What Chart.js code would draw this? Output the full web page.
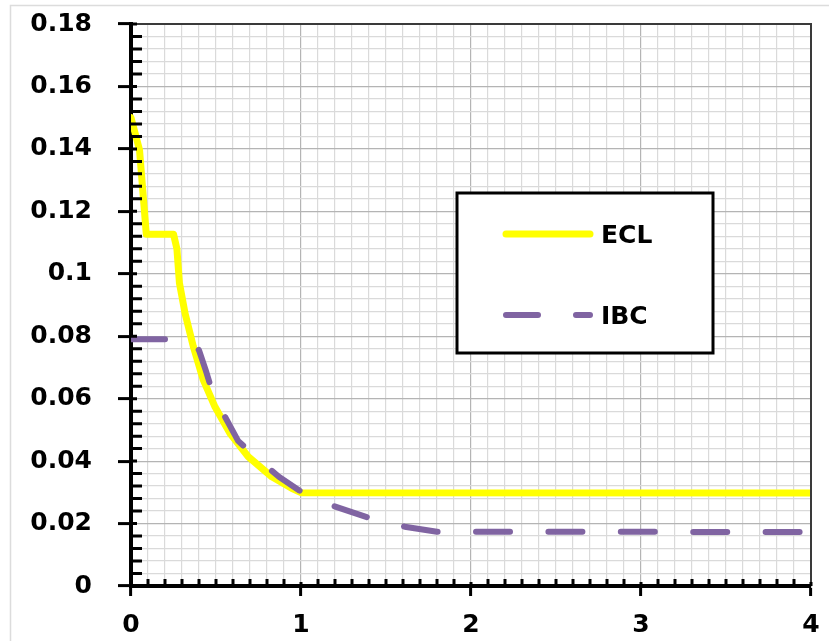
<!doctype html>
<html>

<head>
    <title>ECL vs IBC</title>
    <script src="https://cdn.jsdelivr.net/npm/chart.js"></script>
    <style>
        body { margin: 0; background: #fff; }
    </style>
</head>

<body>
    <canvas id="grafico" width="829" height="642"></canvas>

    <script>
        // tick labels
        const xTicks = [0, 1, 2, 3, 4];
        const yTicks = [0, 0.02, 0.04, 0.06, 0.08, 0.1, 0.12, 0.14, 0.16, 0.18];

        // series names
        const serieNomes = ['ECL', 'IBC'];

        // ECL (yellow, solid)
        const eclX = [0, 0.05, 0.09, 0.25, 0.27, 0.285, 0.318, 0.367, 0.425, 0.494, 0.582, 0.69, 0.828, 0.945, 1.0, 4];
        const eclY = [0.150, 0.1397, 0.1127, 0.1127, 0.108, 0.097, 0.0873, 0.0766, 0.066, 0.0574, 0.0489, 0.0414, 0.035, 0.0313, 0.0299, 0.0298];

        // IBC (purple, dashed)
        const ibcX = [0, 0.3, 0.36, 0.4, 0.44, 0.48, 0.54, 0.63, 0.73, 0.87, 0.99, 1.14, 1.29, 1.44, 1.61, 1.8, 4];
        const ibcY = [0.079, 0.079, 0.0785, 0.0755, 0.069, 0.062, 0.0555, 0.0465, 0.0414, 0.035, 0.0306, 0.0266, 0.0238, 0.0211, 0.019, 0.0174, 0.0173];

        const amarelo = '#FFFF00';
        const roxo = '#8064A2';
        const fonte = 'DejaVu Sans';

        const eh = (v, lista) => lista.some(t => Math.abs(t - v) < 1e-6);

        // minor ticks inside the axes, plot frame, outer frame, legend
        const extras = {
            id: 'extras',
            beforeDraw(chart) {
                const ctx = chart.ctx;
                ctx.save();
                ctx.fillStyle = '#fff';
                ctx.fillRect(0, 0, chart.width, chart.height);
                ctx.strokeStyle = '#dcdcdc';
                ctx.lineWidth = 1.5;
                ctx.beginPath();
                ctx.moveTo(829, 5.5);
                ctx.lineTo(10.5, 5.5);
                ctx.lineTo(10.5, 641);
                ctx.stroke();
                ctx.restore();
            },
            afterDatasetsDraw(chart) {
                const ctx = chart.ctx;
                const a = chart.chartArea;
                const xs = chart.scales.x;
                const ys = chart.scales.y;
                ctx.save();

                // top and right edges
                ctx.strokeStyle = '#3a3a3a';
                ctx.lineWidth = 2;
                ctx.beginPath();
                ctx.moveTo(a.left, a.top);
                ctx.lineTo(a.right, a.top);
                ctx.lineTo(a.right, a.bottom);
                ctx.stroke();

                // inner ticks
                ctx.strokeStyle = '#000';
                ctx.lineWidth = 3;
                ctx.beginPath();
                ys.ticks.forEach(t => {
                    const py = ys.getPixelForValue(t.value);
                    const len = eh(t.value, yTicks) ? 6 : 11;
                    ctx.moveTo(a.left, py);
                    ctx.lineTo(a.left + len, py);
                });
                xs.ticks.forEach(t => {
                    const px = xs.getPixelForValue(t.value);
                    const len = eh(t.value, xTicks) ? 4 : 7;
                    ctx.moveTo(px, a.bottom);
                    ctx.lineTo(px, a.bottom - len);
                });
                ctx.stroke();

                // legend
                const bx = 457, by = 193, bw = 256, bh = 160;
                ctx.fillStyle = '#fff';
                ctx.fillRect(bx, by, bw, bh);
                ctx.strokeStyle = '#000';
                ctx.lineWidth = 3;
                ctx.strokeRect(bx, by, bw, bh);

                ctx.lineCap = 'round';
                ctx.strokeStyle = amarelo;
                ctx.lineWidth = 7;
                ctx.beginPath();
                ctx.moveTo(506, 234);
                ctx.lineTo(590, 234);
                ctx.stroke();

                ctx.strokeStyle = roxo;
                ctx.lineWidth = 6;
                ctx.setLineDash([32, 38]);
                ctx.beginPath();
                ctx.moveTo(506, 315);
                ctx.lineTo(590, 315);
                ctx.stroke();
                ctx.setLineDash([]);

                ctx.fillStyle = '#000';
                ctx.font = 'bold 25px "' + fonte + '"';
                ctx.textAlign = 'left';
                ctx.textBaseline = 'alphabetic';
                ctx.fillText(serieNomes[0], 601, 243);
                ctx.fillText(serieNomes[1], 601, 324);
                ctx.restore();
            }
        };

        const corGrade = (lista) => (c) => {
            if (!c.tick) return '#d9d9d9';
            return eh(c.tick.value, lista) ? '#b4b4b4' : '#dadada';
        };
        const corTick = (lista) => (c) => {
            if (!c.tick) return '#000';
            return eh(c.tick.value, lista) ? '#000' : 'rgba(0,0,0,0)';
        };

        var grafico = new Chart(document.getElementById('grafico').getContext('2d'), {
            type: 'scatter',
            data: {
                datasets: [{
                    label: serieNomes[0],
                    data: eclX.map((x, i) => ({ x: x, y: eclY[i] })),
                    showLine: true,
                    borderColor: amarelo,
                    backgroundColor: amarelo,
                    borderWidth: 7,
                    pointRadius: 0,
                    tension: 0,
                    borderJoinStyle: 'round',
                    borderCapStyle: 'round',
                    order: 1
                }, {
                    label: serieNomes[1],
                    data: ibcX.map((x, i) => ({ x: x, y: ibcY[i] })),
                    showLine: true,
                    borderColor: roxo,
                    backgroundColor: roxo,
                    borderWidth: 6,
                    borderDash: [34, 38.4],
                    borderDashOffset: 0,
                    pointRadius: 0,
                    tension: 0,
                    borderJoinStyle: 'round',
                    borderCapStyle: 'round',
                    order: 0
                }]
            },
            options: {
                responsive: false,
                animation: false,
                devicePixelRatio: 1,
                layout: {
                    padding: { top: 24, right: 18, left: 0, bottom: 0 }
                },
                plugins: {
                    legend: { display: false },
                    tooltip: { enabled: false }
                },
                scales: {
                    x: {
                        type: 'linear',
                        min: 0,
                        max: 4,
                        afterBuildTicks: (s) => {
                            const t = [];
                            for (let i = 0; i <= 40; i++) t.push({ value: i / 10 });
                            s.ticks = t;
                        },
                        afterFit: (s) => {
                            s.height = 56;
                            s.paddingLeft = 0;
                            s.paddingRight = 0;
                        },
                        grid: {
                            color: corGrade(xTicks),
                            lineWidth: 1.2,
                            tickColor: corTick(xTicks),
                            tickLength: 10,
                            tickWidth: 3
                        },
                        border: { color: '#000', width: 4 },
                        ticks: {
                            autoSkip: false,
                            maxRotation: 0,
                            padding: 14,
                            color: '#000',
                            font: { family: fonte, size: 25, weight: 'bold' },
                            callback: (v) => eh(v, xTicks) ? String(Math.round(v)) : ''
                        }
                    },
                    y: {
                        min: 0,
                        max: 0.18,
                        afterBuildTicks: (s) => {
                            const t = [];
                            for (let i = 0; i <= 45; i++) t.push({ value: Math.round(i * 4) / 1000 });
                            s.ticks = t;
                        },
                        afterFit: (s) => {
                            s.width = 131;
                            s.paddingTop = 0;
                            s.paddingBottom = 0;
                        },
                        grid: {
                            color: corGrade(yTicks),
                            lineWidth: 1.2,
                            tickColor: corTick(yTicks),
                            tickLength: 13,
                            tickWidth: 3
                        },
                        border: { color: '#000', width: 4 },
                        ticks: {
                            autoSkip: false,
                            padding: 26,
                            color: '#000',
                            font: { family: fonte, size: 25, weight: 'bold' },
                            callback: (v) => eh(v, yTicks) ? String(Math.round(v * 100) / 100) : ''
                        }
                    }
                }
            },
            plugins: [extras]
        });
    </script>
</body>

</html>
